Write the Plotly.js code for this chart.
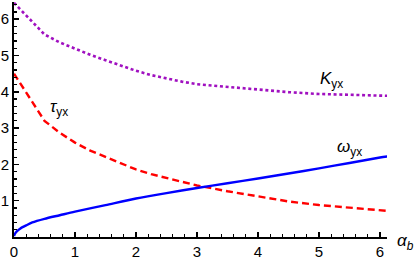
<!DOCTYPE html>
<html><head><meta charset="utf-8">
<script src="https://cdn.plot.ly/plotly-3.0.1.min.js"></script>
<style>html,body{margin:0;padding:0;background:#fff}#chart{width:415px;height:263px}</style>
</head><body><div id="chart"></div>
<script>
// alpha_b values
const alphaCoarse = [0, 0.5, 0.75, 1, 1.25, 1.5, 1.75, 2, 2.25, 2.5, 2.75, 3, 3.5, 4, 4.5, 5, 5.5, 6, 6.12];
const kYx   = [6.45, 5.58, 5.36, 5.18, 5.02, 4.87, 4.72, 4.58, 4.46, 4.36, 4.28, 4.21, 4.13, 4.06, 3.99, 3.94, 3.91, 3.89, 3.89];
const tauYx = [4.5, 3.2, 2.87, 2.6, 2.38, 2.2, 2.02, 1.86, 1.73, 1.62, 1.52, 1.42, 1.26, 1.11, 0.98, 0.88, 0.8, 0.74, 0.72];
const alphaFine = [0, 0.02, 0.05, 0.1, 0.2, 0.3, 0.5, 0.75, 1, 1.5, 2, 2.5, 3, 3.5, 4, 4.5, 5, 5.5, 6, 6.12];
const omegaYx   = [0.03, 0.1, 0.16, 0.23, 0.32, 0.4, 0.5, 0.6, 0.7, 0.88, 1.06, 1.21, 1.35, 1.48, 1.61, 1.75, 1.89, 2.04, 2.19, 2.22];
const xTicks = [0, 1, 2, 3, 4, 5, 6];
const yTicks = [1, 2, 3, 4, 5, 6];

const traces = [
  {x: alphaCoarse, y: kYx, mode: 'lines', line: {color: '#a010c0', width: 2.6, dash: '3px,2.7px'}},
  {x: alphaCoarse, y: tauYx, mode: 'lines', line: {color: '#ff0000', width: 2.4, dash: '7px,4px'}},
  {x: alphaFine, y: omegaYx, mode: 'lines', line: {color: '#0000ff', width: 2.4, shape: 'spline', smoothing: 0.8}}
];
const font = {family: 'Liberation Sans, Arial, sans-serif', size: 15, color: '#000'};
const labFont = {family: 'Liberation Sans, Arial, sans-serif', size: 17, color: '#000'};
const layout = {
  width: 415, height: 263,
  margin: {l: 14, r: 28, t: 2, b: 26},
  paper_bgcolor: '#fff', plot_bgcolor: '#fff',
  showlegend: false,
  font: font,
  xaxis: {
    range: [0, 6.115], showgrid: false, zeroline: false,
    showline: true, linecolor: '#000', linewidth: 2,
    ticks: 'inside', ticklen: 5, tickwidth: 1.5, tickcolor: '#000',
    tickvals: xTicks, ticktext: xTicks.map(String),
    minor: {ticks: 'inside', ticklen: 3, tickwidth: 1.2, tickcolor: '#000', dtick: 0.2, tick0: 0, showgrid: false},
    tickfont: font, fixedrange: true
  },
  yaxis: {
    range: [0, 6.474], showgrid: false, zeroline: false,
    showline: true, linecolor: '#000', linewidth: 2,
    ticks: 'inside', ticklen: 5, tickwidth: 1.5, tickcolor: '#000',
    tickvals: yTicks, ticktext: yTicks.map(String),
    minor: {ticks: 'inside', ticklen: 3, tickwidth: 1.2, tickcolor: '#000', dtick: 0.2, tick0: 0, showgrid: false},
    tickfont: font, fixedrange: true
  },
  annotations: [
    {x: 4.98, y: 4.32, xref: 'x', yref: 'y', xanchor: 'left', yanchor: 'middle', showarrow: false, font: labFont, text: '<i>K</i><sub>yx</sub>'},
    {x: 0.55, y: 3.55, xref: 'x', yref: 'y', xanchor: 'left', yanchor: 'middle', showarrow: false, font: labFont, text: '<i>τ</i><sub>yx</sub>'},
    {x: 5.26, y: 2.44, xref: 'x', yref: 'y', xanchor: 'left', yanchor: 'middle', showarrow: false, font: labFont, text: '<i>ω</i><sub>yx</sub>'},
    {x: 1.022, y: -0.02, xref: 'paper', yref: 'paper', xanchor: 'left', yanchor: 'middle', showarrow: false, font: labFont, text: '<i>α</i><sub><i>b</i></sub>'}
  ]
};
Plotly.newPlot('chart', traces, layout, {staticPlot: true, displayModeBar: false});
</script></body></html>
